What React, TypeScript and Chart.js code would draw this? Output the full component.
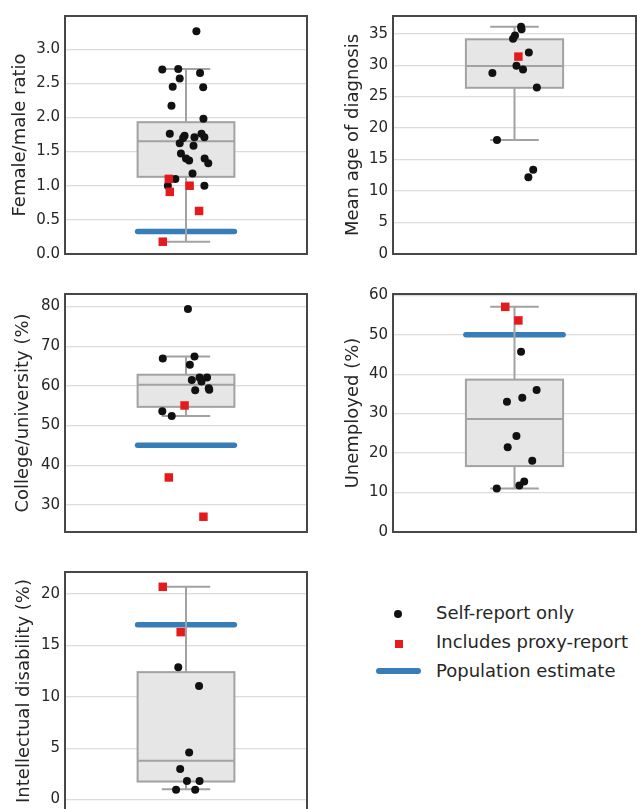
import React, { useEffect, useRef } from "react";
import { Chart, registerables } from "chart.js";

Chart.register(...registerables);

// ---------- Panel 1: Female/male ratio ----------
const ratioSelfY = [3.26, 2.7, 2.71, 2.65, 2.57, 2.45, 2.44, 2.17, 1.98, 1.76, 1.73, 1.7, 1.76, 1.71, 1.71, 1.62, 1.585, 1.47, 1.4, 1.37, 1.4, 1.33, 1.18, 1.1, 1.0, 1.0];
const ratioSelfJitter = [0.043, -0.098, -0.032, 0.058, -0.026, -0.055, 0.071, -0.06, 0.072, -0.067, -0.006, -0.012, 0.064, 0.035, 0.076, -0.026, 0.031, -0.021, 0.0, 0.013, 0.077, 0.092, 0.027, -0.044, -0.075, 0.076];
const ratioProxyY = [1.1, 0.91, 1.0, 0.63, 0.18];
const ratioProxyJitter = [-0.071, -0.067, 0.015, 0.054, -0.096];
const ratioBox = [0.18, 1.13, 1.65, 1.93, 2.71]; // low whisker, q1, median, q3, high whisker
const ratioPopulation = [0.33];
const ratioTicks = [0, 0.5, 1.0, 1.5, 2.0, 2.5, 3.0];
const ratioRange = [0, 3.485];

// ---------- Panel 2: Mean age of diagnosis ----------
const ageSelfY = [36.1, 35.7, 34.7, 34.2, 32.0, 29.9, 29.3, 28.75, 26.45, 18.1, 13.4, 12.2];
const ageSelfJitter = [0.027, 0.029, 0.002, -0.006, 0.059, 0.008, 0.035, -0.091, 0.092, -0.072, 0.077, 0.057];
const ageProxyY = [31.35];
const ageProxyJitter = [0.016];
const ageBox = [18.1, 26.4, 29.85, 34.1, 36.1];
const agePopulation: number[] = [];
const ageTicks = [0, 5, 10, 15, 20, 25, 30, 35];
const ageRange = [0, 37.8];

// ---------- Panel 3: College/university (%) ----------
const collegeSelfY = [79.35, 66.9, 67.4, 65.3, 61.5, 62.1, 62.1, 61.1, 58.9, 59.4, 59.0, 53.6, 52.4];
const collegeSelfJitter = [0.008, -0.096, 0.035, 0.016, 0.024, 0.056, 0.087, 0.064, 0.038, 0.094, 0.096, -0.098, -0.059];
const collegeProxyY = [55.05, 36.9, 27.0];
const collegeProxyJitter = [-0.006, -0.071, 0.072];
const collegeBox = [52.4, 54.7, 60.26, 62.8, 67.4];
const collegePopulation = [45];
const collegeTicks = [30, 40, 50, 60, 70, 80];
const collegeRange = [23.15, 83.15];

// ---------- Panel 4: Unemployed (%) ----------
const unempSelfY = [45.7, 36.0, 34.0, 33.0, 24.3, 21.5, 18.05, 12.8, 11.8, 11.0];
const unempSelfJitter = [0.027, 0.091, 0.032, -0.031, 0.008, -0.028, 0.073, 0.04, 0.02, -0.073];
const unempProxyY = [57.05, 53.6];
const unempProxyJitter = [-0.038, 0.016];
const unempBox = [11.0, 16.7, 28.6, 38.6, 57.05];
const unempPopulation = [50];
const unempTicks = [0, 10, 20, 30, 40, 50, 60];
const unempRange = [0, 60.3];

// ---------- Panel 5: Intellectual disability (%) ----------
const idSelfY = [12.86, 11.04, 4.57, 2.97, 1.79, 1.79, 0.96, 0.96];
const idSelfJitter = [-0.032, 0.054, 0.013, -0.024, 0.004, 0.056, -0.041, 0.038];
const idProxyY = [20.69, 16.28];
const idProxyJitter = [-0.096, -0.022];
const idBox = [0.99, 1.75, 3.77, 12.39, 20.69];
const idPopulation = [17];
const idTicks = [0, 5, 10, 15, 20];
const idRange = [-1.02, 22.13];

// ---------- Legend ----------
const legendLabels = ["Self-report only", "Includes proxy-report", "Population estimate"];

const FONT = "'DejaVu Sans', 'Liberation Sans', Arial, sans-serif";
const TEXT = "#262626";
const BLACK = "#111111";
const RED = "#e41a1c";
const BLUE = "#377eb8";
const BOX_FILL = "#e6e6e6";
const BOX_LINE = "#a2a2a2";
const FRAME = "#474747";
const GRID = "#dcdcdc";

const AXIS_W = 65;
const PLOT_H = 242;
const PAD_T = 12;
const PAD_B = 12;
const PAD_R = 4;

type PanelProps = {
  title: string;
  selfY: number[];
  selfX: number[];
  proxyY: number[];
  proxyX: number[];
  box: number[];
  population: number[];
  ticks: number[];
  range: number[];
  decimals: number;
  left: number;
  top: number;
  plotW: number;
  titlePad: number;
};

function Panel(p: PanelProps) {
  const ref = useRef<HTMLCanvasElement | null>(null);
  const W = AXIS_W + p.plotW + PAD_R;
  const H = PLOT_H + PAD_T + PAD_B;

  useEffect(() => {
    if (!ref.current) return;
    const boxPlugin = {
      id: "boxplotDraw",
      afterDatasetDraw(chart: any, args: any) {
        if (args.index !== 0) return;
        const [lo, q1, med, q3, hi] = p.box;
        const xs = chart.scales.x;
        const ys = chart.scales.y;
        const ctx = chart.ctx;
        const xl = xs.getPixelForValue(-0.2);
        const xr = xs.getPixelForValue(0.2);
        const xc = xs.getPixelForValue(0);
        const cl = xs.getPixelForValue(-0.1);
        const cr = xs.getPixelForValue(0.1);
        const yq1 = ys.getPixelForValue(q1);
        const yq3 = ys.getPixelForValue(q3);
        const ymed = ys.getPixelForValue(med);
        const ylo = ys.getPixelForValue(lo);
        const yhi = ys.getPixelForValue(hi);
        ctx.save();
        ctx.strokeStyle = BOX_LINE;
        ctx.lineWidth = 2;
        // whiskers
        ctx.beginPath();
        ctx.moveTo(xc, yq3);
        ctx.lineTo(xc, yhi);
        ctx.moveTo(xc, yq1);
        ctx.lineTo(xc, ylo);
        ctx.moveTo(cl, yhi);
        ctx.lineTo(cr, yhi);
        ctx.moveTo(cl, ylo);
        ctx.lineTo(cr, ylo);
        ctx.stroke();
        // box
        ctx.fillStyle = BOX_FILL;
        ctx.fillRect(xl, yq3, xr - xl, yq1 - yq3);
        ctx.strokeRect(xl, yq3, xr - xl, yq1 - yq3);
        // median
        ctx.beginPath();
        ctx.moveTo(xl, ymed);
        ctx.lineTo(xr, ymed);
        ctx.stroke();
        ctx.restore();
      },
    };
    const framePlugin = {
      id: "frameDraw",
      afterDraw(chart: any) {
        const a = chart.chartArea;
        const ctx = chart.ctx;
        ctx.save();
        ctx.strokeStyle = FRAME;
        ctx.lineWidth = 2;
        ctx.strokeRect(a.left, a.top, a.right - a.left, a.bottom - a.top);
        ctx.restore();
      },
    };
    const chart = new Chart(ref.current, {
      type: "scatter",
      data: {
        datasets: [
          {
            type: "line",
            data: p.population.length
              ? [
                  { x: -0.2, y: p.population[0] },
                  { x: 0.2, y: p.population[0] },
                ]
              : [],
            borderColor: BLUE,
            borderWidth: 5.5,
            borderCapStyle: "round",
            pointRadius: 0,
            showLine: true,
            fill: false,
            order: 3,
          } as any,
          {
            data: p.selfY.map((y, i) => ({ x: p.selfX[i], y })),
            pointStyle: "circle",
            pointRadius: 4,
            backgroundColor: BLACK,
            borderWidth: 0,
            order: 2,
          },
          {
            data: p.proxyY.map((y, i) => ({ x: p.proxyX[i], y })),
            pointStyle: "rect",
            pointRadius: 6,
            backgroundColor: RED,
            borderWidth: 0,
            order: 1,
          },
        ],
      },
      options: {
        animation: false,
        responsive: false,
        events: [],
        layout: { padding: { top: PAD_T, bottom: PAD_B, right: PAD_R, left: 0 } },
        plugins: { legend: { display: false }, tooltip: { enabled: false } },
        scales: {
          x: { type: "linear", min: -0.5, max: 0.5, display: false },
          y: {
            type: "linear",
            min: p.range[0],
            max: p.range[1],
            afterBuildTicks: (s: any) => {
              s.ticks = p.ticks.map((v) => ({ value: v }));
            },
            afterFit: (s: any) => {
              s.width = AXIS_W;
            },
            grid: { color: GRID, lineWidth: 1.2, drawTicks: false },
            border: { display: false },
            ticks: {
              padding: 5,
              color: TEXT,
              font: { family: FONT, size: 15 },
              callback: (v: any) => Number(v).toFixed(p.decimals),
            },
            title: {
              display: true,
              text: p.title,
              color: TEXT,
              font: { family: FONT, size: 18 },
              padding: { top: p.titlePad, bottom: 0 },
            },
          },
        },
      } as any,
      plugins: [boxPlugin, framePlugin],
    });
    return () => chart.destroy();
  }, []);

  return (
    <canvas
      ref={ref}
      width={W}
      height={H}
      style={{ position: "absolute", left: p.left - AXIS_W, top: p.top - PAD_T, width: W, height: H }}
    />
  );
}

export default function App() {
  return (
    <div
      style={{
        position: "fixed",
        left: 0,
        top: 0,
        width: 637,
        height: 809,
        overflow: "hidden",
        background: "#fff",
        fontFamily: FONT,
      }}
    >
      <Panel title="Female/male ratio" selfY={ratioSelfY} selfX={ratioSelfJitter} proxyY={ratioProxyY} proxyX={ratioProxyJitter} box={ratioBox} population={ratioPopulation} ticks={ratioTicks} range={ratioRange} decimals={1} left={65} top={14} plotW={244} titlePad={9.2} />
      <Panel title="Mean age of diagnosis" selfY={ageSelfY} selfX={ageSelfJitter} proxyY={ageProxyY} proxyX={ageProxyJitter} box={ageBox} population={agePopulation} ticks={ageTicks} range={ageRange} decimals={0} left={393} top={14} plotW={245} titlePad={14.5} />
      <Panel title="College/university (%)" selfY={collegeSelfY} selfX={collegeSelfJitter} proxyY={collegeProxyY} proxyX={collegeProxyJitter} box={collegeBox} population={collegePopulation} ticks={collegeTicks} range={collegeRange} decimals={0} left={65} top={292} plotW={244} titlePad={12.5} />
      <Panel title="Unemployed (%)" selfY={unempSelfY} selfX={unempSelfJitter} proxyY={unempProxyY} proxyX={unempProxyJitter} box={unempBox} population={unempPopulation} ticks={unempTicks} range={unempRange} decimals={0} left={393} top={292} plotW={245} titlePad={14.5} />
      <Panel title="Intellectual disability (%)" selfY={idSelfY} selfX={idSelfJitter} proxyY={idProxyY} proxyX={idProxyJitter} box={idBox} population={idPopulation} ticks={idTicks} range={idRange} decimals={0} left={65} top={570} plotW={244} titlePad={13.5} />

      {/* Legend */}
      <div style={{ position: "absolute", left: 394.2, top: 610.2, width: 8, height: 8, borderRadius: "50%", background: BLACK }} />
      <div style={{ position: "absolute", left: 394.5, top: 639.8, width: 8.5, height: 8.5, background: RED }} />
      <div style={{ position: "absolute", left: 376, top: 668, width: 45, height: 5.5, borderRadius: 3, background: BLUE }} />
      {legendLabels.map((t, i) => (
        <div
          key={t}
          style={{
            position: "absolute",
            left: 436,
            top: 603.8 + i * 29,
            fontSize: 18,
            lineHeight: "18px",
            color: TEXT,
            whiteSpace: "nowrap",
          }}
        >
          {t}
        </div>
      ))}
    </div>
  );
}
